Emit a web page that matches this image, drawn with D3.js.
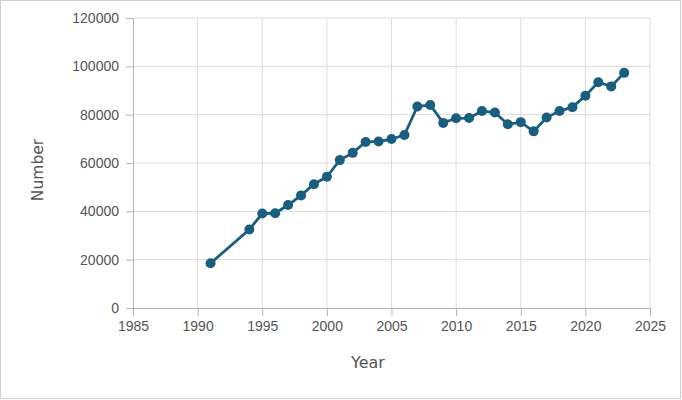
<!DOCTYPE html>
<html>
<head>
<meta charset="utf-8">
<script src="https://cdn.jsdelivr.net/npm/d3@7"></script>
<style>
  body { margin: 0; background: #fff; }
  svg { display: block; font-family: "DejaVu Sans", sans-serif; }
</style>
</head>
<body>
<div id="chart"></div>
<script>
document.addEventListener("DOMContentLoaded", function () {
    const width = 682;
    const height = 400;
    const margin = { top: 18, right: 32, bottom: 92, left: 133 };

    // values
    const years = [1991, 1994, 1995, 1996, 1997, 1998, 1999, 2000, 2001, 2002,
        2003, 2004, 2005, 2006, 2007, 2008, 2009, 2010, 2011, 2012,
        2013, 2014, 2015, 2016, 2017, 2018, 2019, 2020, 2021, 2022, 2023];
    const numbers = [18500, 32500, 39100, 39200, 42600, 46600, 51200, 54300, 61200, 64200,
        68700, 68900, 69900, 71600, 83400, 84000, 76600, 78500, 78600, 81500,
        80900, 76000, 76900, 73100, 78800, 81500, 83100, 87800, 93400, 91700, 97300];
    const xTicks = [1985, 1990, 1995, 2000, 2005, 2010, 2015, 2020, 2025];
    const yTicks = [0, 20000, 40000, 60000, 80000, 100000, 120000];

    const data = years.map((d, i) => ({ year: d, value: numbers[i] }));

    const x = d3.scaleLinear()
        .domain([1985, 2025])
        .range([margin.left, width - margin.right]);

    const y = d3.scaleLinear()
        .domain([0, 120000])
        .range([height - margin.bottom, margin.top]);

    const svg = d3.select("#chart")
        .append("svg")
        .attr("width", width)
        .attr("height", height);

    // outer frame
    svg.append("rect")
        .attr("x", 0.5).attr("y", 0.5)
        .attr("width", width - 2).attr("height", height - 2)
        .attr("fill", "none")
        .attr("stroke", "#d0d0d0");

    // grid
    svg.append("g")
        .selectAll("line")
        .data(yTicks.slice(1))
        .join("line")
        .attr("x1", margin.left).attr("x2", width - margin.right)
        .attr("y1", d => y(d)).attr("y2", d => y(d))
        .attr("stroke", "#dcdcdc");

    svg.append("g")
        .selectAll("line")
        .data(xTicks.slice(1))
        .join("line")
        .attr("x1", d => x(d)).attr("x2", d => x(d))
        .attr("y1", margin.top).attr("y2", height - margin.bottom)
        .attr("stroke", "#dcdcdc");

    const xAxis = g => g
        .attr("transform", `translate(0,${height - margin.bottom})`)
        .call(d3.axisBottom(x).tickValues(xTicks).tickFormat(d3.format("d")).tickSize(8).tickPadding(5))
        .call(g => g.selectAll(".domain, .tick line").attr("stroke", "#b4b4b4"))
        .call(g => g.selectAll("text").attr("fill", "#555").attr("font-size", 14));

    const yAxis = g => g
        .attr("transform", `translate(${margin.left},0)`)
        .call(d3.axisLeft(y).tickValues(yTicks).tickFormat(d3.format("d")).tickSize(7).tickPadding(7))
        .call(g => g.selectAll(".domain, .tick line").attr("stroke", "#b4b4b4"))
        .call(g => g.selectAll("text").attr("fill", "#555").attr("font-size", 14));

    svg.append("g").call(xAxis);
    svg.append("g").call(yAxis);

    // axis titles
    svg.append("text")
        .attr("x", 368).attr("y", 368)
        .attr("text-anchor", "middle")
        .attr("fill", "#555")
        .attr("font-size", 16)
        .text("Year");

    svg.append("text")
        .attr("transform", "translate(43,170) rotate(-90)")
        .attr("text-anchor", "middle")
        .attr("fill", "#555")
        .attr("font-size", 15.5)
        .text("Number");

    const color = "#1a5e7f";

    const line = d3.line()
        .x(d => x(d.year))
        .y(d => y(d.value));

    svg.append("path")
        .datum(data)
        .attr("fill", "none")
        .attr("stroke", color)
        .attr("stroke-width", 2.8)
        .attr("d", line);

    svg.append("g")
        .attr("fill", color)
        .selectAll("circle")
        .data(data)
        .join("circle")
        .attr("cx", d => x(d.year))
        .attr("cy", d => y(d.value))
        .attr("r", 5);
});
</script>
</body>
</html>
